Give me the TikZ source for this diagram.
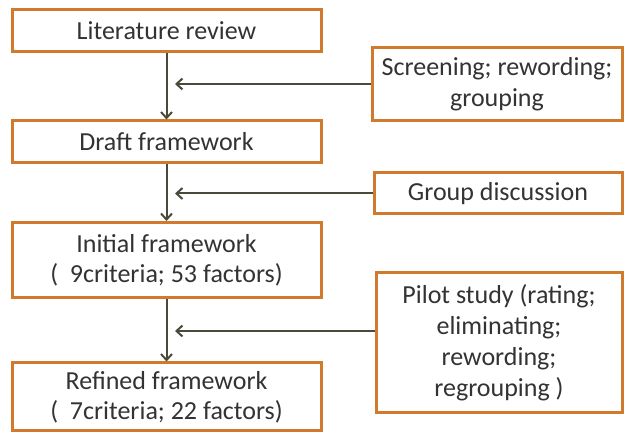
\documentclass[tikz,border=0pt]{standalone}
\usepackage{fontspec}
\setmainfont{Carlito}
\usetikzlibrary{arrows.meta}
\definecolor{boxline}{HTML}{D07A2E}
\definecolor{arrline}{HTML}{4A4A3A}
\definecolor{txt}{HTML}{333333}
\begin{document}
\begin{tikzpicture}[x=1pt,y=-1pt,
  stage/.style={draw=boxline,line width=3pt,fill=white,text=txt,align=center,
    minimum width=309pt,inner sep=0pt,font=\fontsize{26}{30}\selectfont},
  action/.style={draw=boxline,line width=3pt,fill=white,text=txt,align=center,
    inner sep=0pt,font=\fontsize{26}{31}\selectfont},
  arr/.style={draw=arrline,line width=2pt,-{Straight Barb[length=6pt,width=11pt,line width=2pt]}}]
\useasboundingbox (0,0) rectangle (624,435);

% main stages
\node[stage,minimum height=42pt] (lit) at (166.5,31) {Literature review};
\node[stage,minimum height=42pt] (draft) at (166.5,142) {Draft framework};
\node[stage,minimum height=75pt] (init) at (166.5,260) {Initial framework\\( \ 9criteria; 53 factors)};
\node[stage,minimum height=68pt] (ref) at (166.5,397) {Refined framework\\( \ 7criteria; 22 factors)};

% actions between stages
\node[action,minimum width=250pt,minimum height=73pt] (scr) at (497,84) {Screening; rewording;\\grouping};
\node[action,minimum width=248pt,minimum height=41pt] (grp) at (498,193.5) {Group discussion};
\node[action,minimum width=246pt,minimum height=140pt] (pil) at (499,343) {Pilot study (rating;\\eliminating;\\rewording;\\regrouping )};

% arrow ends on the main flow
\coordinate (e1) at (175,84);
\coordinate (e2) at (175,193.5);
\coordinate (e3) at (175,331);

\draw[arr] (lit) -- (draft);
\draw[arr] (draft) -- (init);
\draw[arr] (init) -- (ref);

\draw[arr] (scr.west) -- (e1);
\draw[arr] (grp.west) -- (e2);
\draw[arr] (e3 -| pil.west) -- (e3);
\end{tikzpicture}
\end{document}
